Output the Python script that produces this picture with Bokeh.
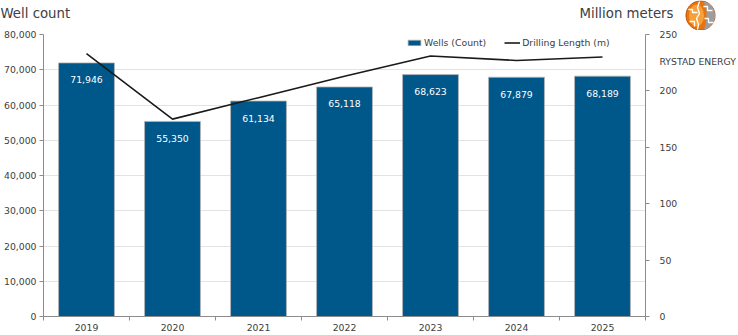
import numpy as np
from bokeh.plotting import figure
from bokeh.layouts import column
from bokeh.models import (Range1d, LinearAxis, FixedTicker, NumeralTickFormatter,
                          Legend, LegendItem, ColumnDataSource)
from bokeh.core.properties import value
from bokeh.embed import file_html
from bokeh.resources import INLINE

years = ["2019", "2020", "2021", "2022", "2023", "2024", "2025"]
wells = [71946, 55350, 61134, 65118, 68623, 67879, 68189]
drilling_len = [233, 175, 194, 213, 231, 227, 230]
left_ticks = [0, 10000, 20000, 30000, 40000, 50000, 60000, 70000, 80000]
right_ticks = [0, 50, 100, 150, 200, 250]
left_title = "Well count"
right_title = "Million meters"
brand = "RYSTAD ENERGY"
brand_pos = 226  # position of the brand text along the right axis scale

FONT = "DejaVu Sans"
TICK_FS = "9.3px"
GRAY_TXT = "#404040"
AXIS_COL = "#8c8c8c"
W = 738
HDR_H = 30

# ---------------- header (titles + logo) ----------------
hdr = figure(width=W, height=HDR_H, output_backend="svg", toolbar_location=None,
             x_range=Range1d(0, W), y_range=Range1d(HDR_H, 0),
             x_axis_type=None, y_axis_type=None, min_border=0)
hdr.frame_align = False
hdr.outline_line_color = None
hdr.grid.visible = False
hdr.text(x=[0, 579], y=[13, 13], text=[left_title, right_title],
         text_font=value(FONT), text_font_size="13.3px", text_color=GRAY_TXT,
         text_baseline="alphabetic", text_align="left")

cx, cy, r = 700, 15, 14.5
t = np.linspace(0, 2 * np.pi, 72)
hdr.patch(x=cx + r * np.cos(t), y=cy + r * np.sin(t), fill_color="#e8740e",
          line_color="#b5530a", line_width=1)
hdr.ellipse(x=[cx - 4], y=[cy], width=[15], height=[22], fill_color="#f7a03a",
            line_color=None)
ta = np.linspace(-1.3, 1.3, 30)
gx = np.concatenate([cx + r * np.cos(ta), cx + 2 + 4 * np.cos(ta[::-1])])
gy = np.concatenate([cy + r * np.sin(ta), cy + (r - 0.5) * np.sin(ta[::-1])])
hdr.patch(x=gx, y=gy, fill_color="#9d9d9d", line_color=None)
cracks_x = [[cx - 1, cx - 3, cx - 1, cx - 4, cx - 2, cx - 3],
            [cx - 12, cx - 8, cx - 8, cx - 3],
            [cx + 3, cx + 7, cx + 7, cx + 12],
            [cx + 4, cx + 8, cx + 8, cx + 13],
            [cx - 11, cx - 6, cx - 6]]
cracks_y = [[cy - 14, cy - 8, cy - 2, cy + 3, cy + 9, cy + 14],
            [cy - 6, cy - 6, cy - 3, cy - 3],
            [cy - 9, cy - 9, cy - 5, cy - 5],
            [cy + 3, cy + 3, cy + 7, cy + 7],
            [cy + 6, cy + 6, cy + 11]]
hdr.multi_line(xs=cracks_x, ys=cracks_y, line_color="white", line_width=1.3)

# ---------------- main chart ----------------
xs = list(range(len(years)))
src = ColumnDataSource(dict(x=xs, wells=wells, drill=drilling_len,
                            lab=[f"{w:,}" for w in wells]))

p = figure(width=W, height=335 - HDR_H, output_backend="svg", toolbar_location=None,
           x_range=Range1d(-0.5, len(years) - 0.5),
           y_range=Range1d(left_ticks[0], left_ticks[-1]),
           min_border_left=43, min_border_right=92, min_border_top=34 - HDR_H,
           min_border_bottom=19)
p.frame_align = False
p.extra_y_ranges = {"len": Range1d(right_ticks[0], right_ticks[-1])}
p.outline_line_color = None
p.background_fill_color = "white"
p.xgrid.visible = False
p.ygrid.grid_line_color = "#e3e3e3"
p.ygrid.ticker = FixedTicker(ticks=left_ticks)

bars = p.vbar(x="x", top="wells", width=0.65, bottom=0, source=src,
              fill_color="#00578a", line_color="#b5b5b5", line_width=0.8)
line = p.line(x="x", y="drill", source=src, y_range_name="len",
              line_color="#1a1a1a", line_width=1.6)
p.text(x="x", y="wells", text="lab", source=src, text_color="white",
       text_align="center", text_baseline="middle", y_offset=17,
       text_font=value(FONT), text_font_size=TICK_FS)

# left axis
ya = p.yaxis[0]
ya.ticker = FixedTicker(ticks=left_ticks)
ya.formatter = NumeralTickFormatter(format="0,0")
ya.major_tick_out = 4
ya.major_tick_in = 0
ya.minor_tick_out = 0
ya.minor_tick_in = 0
ya.axis_line_color = AXIS_COL
ya.major_tick_line_color = AXIS_COL
ya.major_label_text_font = FONT
ya.major_label_text_font_size = TICK_FS
ya.major_label_text_color = GRAY_TXT
ya.major_label_standoff = 3

# bottom axis
xa = p.xaxis[0]
xa.ticker = FixedTicker(ticks=xs, minor_ticks=[i - 0.5 for i in range(len(years) + 1)])
xa.major_label_overrides = {i: y for i, y in enumerate(years)}
xa.major_tick_out = 0
xa.major_tick_in = 0
xa.minor_tick_out = 4
xa.minor_tick_in = 0
xa.minor_tick_line_color = AXIS_COL
xa.axis_line_color = AXIS_COL
xa.major_label_text_font = FONT
xa.major_label_text_font_size = TICK_FS
xa.major_label_text_color = GRAY_TXT
xa.major_label_standoff = 3

# right axis (tick marks drawn as minor ticks; brand name as an extra label)
ra = LinearAxis(y_range_name="len",
                ticker=FixedTicker(ticks=right_ticks + [brand_pos], minor_ticks=right_ticks))
ra.major_label_overrides = {brand_pos: brand}
ra.major_tick_out = 0
ra.major_tick_in = 0
ra.minor_tick_out = 4
ra.minor_tick_in = 0
ra.axis_line_color = AXIS_COL
ra.minor_tick_line_color = AXIS_COL
ra.major_label_text_font = FONT
ra.major_label_text_font_size = TICK_FS
ra.major_label_text_color = GRAY_TXT
ra.major_label_standoff = 10
p.add_layout(ra, "right")

legend = Legend(items=[LegendItem(label="Wells (Count)", renderers=[bars]),
                       LegendItem(label="Drilling Length (m)", renderers=[line])],
                orientation="horizontal", location=(363, 268),
                glyph_width=16, glyph_height=7, label_height=12,
                label_standoff=2, spacing=18, padding=2, margin=0,
                border_line_color=None, background_fill_alpha=0,
                label_text_font=FONT, label_text_font_size=TICK_FS,
                label_text_color=GRAY_TXT)
p.add_layout(legend)

layout = column(hdr, p, spacing=0)
open("out.html", "w").write(file_html(layout, INLINE))
